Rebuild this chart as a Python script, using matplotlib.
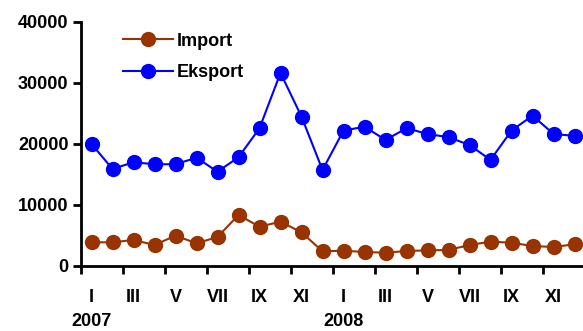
import matplotlib.pyplot as plt
import matplotlib.transforms as mtransforms
import numpy as np

plt.rcParams['font.family'] = ['Liberation Sans', 'DejaVu Sans']
plt.rcParams['font.weight'] = 'bold'

months = ['I', 'II', 'III', 'IV', 'V', 'VI', 'VII', 'VIII', 'IX', 'X', 'XI', 'XII']
years = ['2007', '2008']

# monthly values, 2007 I .. 2008 XII
import_vals = [3840, 3840, 4220, 3400, 4930, 3680, 4710, 8330, 6400, 7230, 5480, 2360,
               2460, 2250, 2130, 2410, 2520, 2580, 3400, 3940, 3780, 3230, 3070, 3510]
eksport_vals = [19980, 15880, 16980, 16650, 16650, 17730, 15430, 17800, 22560, 31640, 24470, 15710,
                22170, 22820, 20640, 22560, 21630, 21080, 19820, 17360, 22170, 24630, 21630, 21300]

x = np.arange(len(import_vals))
fs = 13

fig = plt.figure(figsize=(5.83, 3.31), dpi=100)
ax = fig.add_axes([81 / 583, 1 - 265.7 / 331, 504 / 583, (265.7 - 22) / 331])

ax.plot(x, import_vals, color='#993300', lw=1.5, marker='o', ms=10, label='Import', clip_on=False)
ax.plot(x, eksport_vals, color='#0000ff', lw=1.5, marker='o', ms=10, label='Eksport', clip_on=False)

ax.set_xlim(-0.5, 23.5)
ax.set_ylim(0, 40000)
ax.set_yticks([0, 10000, 20000, 30000, 40000])
ax.tick_params(axis='y', direction='out', length=6, width=2, labelsize=fs, pad=3)

# boundary ticks every two months, labels on odd months
ax.set_xticks(np.arange(-0.5, 24, 2))
ax.set_xticklabels([])
ax.tick_params(axis='x', which='major', direction='out', length=6, width=2)
ax.set_xticks(x[::2], minor=True)
ax.set_xticklabels([months[i % 12] for i in x[::2]], minor=True)
ax.tick_params(axis='x', which='minor', length=0, labelsize=fs, pad=17)

trans = mtransforms.blended_transform_factory(ax.transData, fig.transFigure)
for k, yr in enumerate(years):
    fig.text(12 * k, 1 - 322 / 331, yr, transform=trans, fontsize=fs, fontweight='bold',
             ha='center', va='center')

for s in ['top', 'right']:
    ax.spines[s].set_visible(False)
for s in ['left', 'bottom']:
    ax.spines[s].set_linewidth(2)

ax.legend(loc='upper left', bbox_to_anchor=(0.055, 1.015), frameon=False, fontsize=fs,
          handlelength=2.75, handletextpad=0.22, labelspacing=0.8, borderpad=0.3)

fig.savefig('out.png', dpi=100)
